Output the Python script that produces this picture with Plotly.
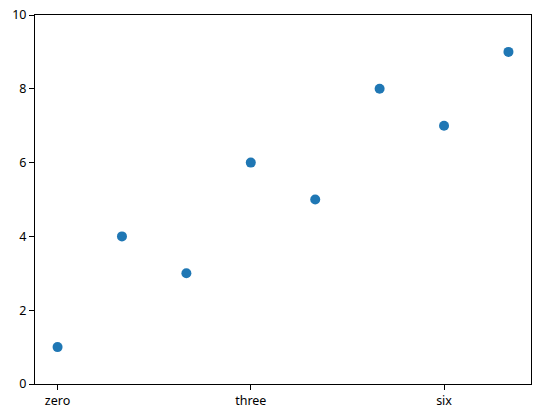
import plotly.graph_objects as go

x_vals = [0, 1, 2, 3, 4, 5, 6, 7]
y_vals = [1, 4, 3, 6, 5, 8, 7, 9]
x_tick_vals = [0, 3, 6]
x_tick_text = ["zero", "three", "six"]
y_tick_vals = [0, 2, 4, 6, 8, 10]

fig = go.Figure()
fig.add_trace(go.Scatter(
    x=x_vals, y=y_vals, mode="markers",
    marker=dict(color="#1f77b4", size=10, line=dict(width=0)),
))

axis_common = dict(
    showgrid=False, zeroline=False, showline=True, linecolor="black",
    linewidth=1, mirror=True, ticks="outside", ticklen=5, tickwidth=1,
    tickcolor="black", tickfont=dict(family="Noto Sans", size=12.5, color="black"),
    automargin=False,
)
fig.update_layout(
    width=540, height=417,
    margin=dict(l=35, r=9, t=15, b=33, pad=0, autoexpand=False),
    paper_bgcolor="white", plot_bgcolor="white",
    showlegend=False,
    xaxis=dict(range=[-0.35, 7.35], tickvals=x_tick_vals, ticktext=x_tick_text, **axis_common),
    yaxis=dict(range=[0, 10], tickvals=y_tick_vals, **axis_common),
)
fig.write_html(
    "out.html",
    config={"displayModeBar": False},
    post_script="document.body.style.margin='0';document.body.style.overflow='hidden';",
)
